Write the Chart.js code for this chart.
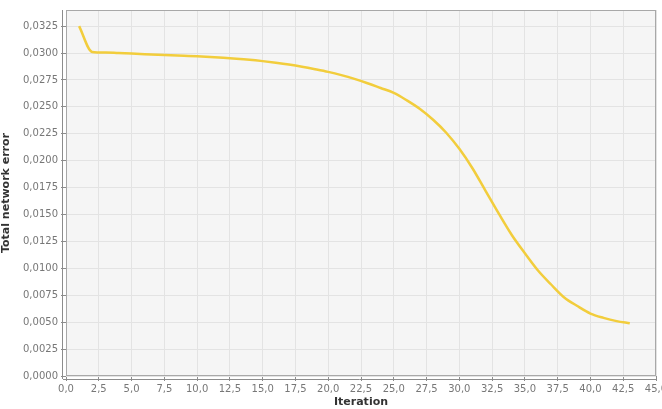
<!DOCTYPE html>
<html>
<head>
<meta charset="utf-8">
<script src="https://cdn.jsdelivr.net/npm/chart.js@4/dist/chart.umd.min.js"></script>
<style>
html,body{margin:0;padding:0;background:#fff;overflow:hidden;width:662px;height:409px;}
#wrap{position:absolute;left:0;top:0;width:676px;height:409px;}
</style>
</head>
<body>
<div id="wrap"><canvas id="c" width="676" height="409"></canvas></div>
<script>
const iterations = [1,2,3,4,5,6,7,8,9,10,11,12,13,14,15,16,17,18,19,20,21,22,23,24,25,26,27,28,29,30,31,32,33,34,35,36,37,38,39,40,41,42,43];
const errors = [0.0325,0.0301,0.03005,0.0300,0.02995,0.0299,0.02985,0.0298,0.02975,0.0297,0.02963,0.02956,0.02948,0.02938,0.02925,0.0291,0.02893,0.02873,0.0285,0.02825,0.02795,0.0276,0.0272,0.02675,0.0263,0.0256,0.0248,0.0238,0.0226,0.0211,0.0193,0.0172,0.0151,0.0131,0.0114,0.0098,0.0085,0.0073,0.0065,0.0058,0.0054,0.0051,0.0049];
const xTickStep = 2.5;
const yTickStep = 0.0025;

const plotBg = {
  id:'plotBg',
  beforeDraw(chart){
    const {ctx, chartArea:a} = chart;
    ctx.save();
    ctx.fillStyle = '#f5f5f5';
    ctx.fillRect(a.left, a.top, a.right-a.left, a.bottom-a.top);
    ctx.restore();
  },
  afterDatasetsDraw(chart){
    const {ctx, chartArea:a} = chart;
    ctx.save();
    ctx.strokeStyle = '#a8a8a8';
    ctx.lineWidth = 1;
    ctx.strokeRect(a.left+0.5, a.top+0.5, a.right-a.left-1, a.bottom-a.top-1);
    ctx.strokeStyle = '#8c8c8c';
    ctx.beginPath();
    ctx.moveTo(a.left-3.5, a.top); ctx.lineTo(a.left-3.5, a.bottom+3);
    ctx.moveTo(a.left-3, a.bottom+3.5); ctx.lineTo(a.right, a.bottom+3.5);
    ctx.stroke();
    ctx.restore();
  }
};

new Chart(document.getElementById('c'), {
  type:'line',
  data:{datasets:[{
    data: iterations.map((x,i)=>({x:x, y:errors[i]})),
    borderColor:'#f2cd3c',
    borderWidth:2.5,
    pointRadius:0,
    cubicInterpolationMode:'monotone',
    fill:false
  }]},
  options:{
    responsive:false,
    animation:false,
    plugins:{legend:{display:false}, tooltip:{enabled:false}},
    layout:{padding:{top:10,right:20,left:0,bottom:0}},
    scales:{
      x:{
        type:'linear', min:0, max:45,
        border:{display:false},
        grid:{color:'#e3e3e3', tickColor:'#8c8c8c', tickLength:5, offset:false},
        ticks:{stepSize:xTickStep, color:'#777', font:{family:'DejaVu Sans', size:10}, padding:2, maxRotation:0, autoSkip:false,
          callback:v=>v.toFixed(1).replace('.',',')},
        title:{display:true, text:'Iteration', color:'#333', font:{family:'DejaVu Sans', size:11, weight:'bold'}, padding:{top:0,bottom:0}},
        afterFit(s){ s.height = 33; }
      },
      y:{
        type:'linear', min:0, max:0.034,
        border:{display:false},
        grid:{color:'#e3e3e3', tickColor:'#8c8c8c', tickLength:5},
        ticks:{stepSize:yTickStep, color:'#777', font:{family:'DejaVu Sans', size:10}, padding:3,
          callback:v=>v.toFixed(4).replace('.',',')},
        afterBuildTicks(s){ s.ticks = s.ticks.filter(t=>Math.abs(t.value/yTickStep - Math.round(t.value/yTickStep))<1e-6); },
        title:{display:true, text:'Total network error', color:'#333', font:{family:'DejaVu Sans', size:11, weight:'bold'}, padding:{top:0,bottom:4}},
        afterFit(s){ s.width = 66; }
      }
    }
  },
  plugins:[plotBg]
});
</script>
</body>
</html>
